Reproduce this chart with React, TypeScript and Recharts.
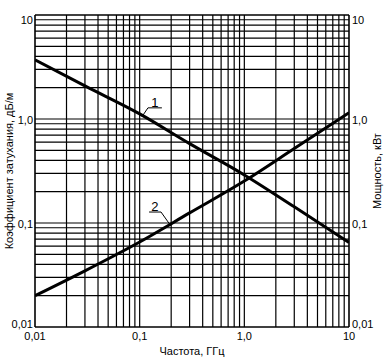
import React from 'react';
import {
  LineChart, Line, XAxis, YAxis, ReferenceLine, ReferenceDot,
} from 'recharts';

// frequency, GHz
const freq = [0.01, 0.03, 0.1, 0.3, 1, 3, 10];
// curve 1 – attenuation, dB/m
const attenuation = [3.7, 2.08, 1.12, 0.58, 0.29, 0.143, 0.065];
// curve 2 – power, kW
const power = [0.02, 0.0347, 0.0657, 0.125, 0.253, 0.52, 1.15];

const decadeTicks = [0.01, 0.1, 1, 10];
const xTickLabels = ['0,01', '0,1', '1,0', '10'];
const yTickLabels = ['0,01', '0,1', '1,0', '10'];
const gridMultipliers = [1, 2, 3, 4, 5, 6, 7, 8, 9];
const gridDecades = [0.01, 0.1, 1];

const gridValues = [...gridDecades.flatMap((d) => gridMultipliers.map((m) => +(d * m).toPrecision(3))), 10];

const data = freq.map((f, i) => ({ f, a: attenuation[i], p: power[i] }));

const FONT = 'Arial, "Liberation Sans", sans-serif';

const labelFor = (labels: string[], v: number) => labels[decadeTicks.indexOf(v)] ?? String(v);

// end labels sit slightly inside the frame, as in the drawing
const edgeShift = (v: number) => (v === 10 ? 5 : v === 0.01 ? -3 : 1);

const YTick = (props: any) => {
  const { x, y, payload, textAnchor } = props;
  return (
    <text x={x} y={y + edgeShift(payload.value)} textAnchor={textAnchor} dominantBaseline="central"
      fontSize={11} fontFamily={FONT} fill="#000">
      {labelFor(yTickLabels, payload.value)}
    </text>
  );
};

const App: React.FC = () => {
  return (
    <div style={{ position: 'absolute', left: 0, top: 0, background: '#fff' }}>
      <LineChart width={387} height={359} data={data} margin={{ top: 15, right: 0, bottom: 0, left: 0 }}>
        <XAxis dataKey="f" type="number" scale="log" domain={[0.01, 10]} ticks={decadeTicks}
          allowDataOverflow axisLine={false} tickLine={false} tickSize={3} height={32}
          tick={{ fontSize: 11, fontFamily: FONT, fill: '#000' }}
          tickFormatter={(v: number) => labelFor(xTickLabels, v)}
          label={{ value: 'Частота, ГГц', position: 'insideBottom', offset: 4, fontSize: 11, fontFamily: FONT, fill: '#000' }} />
        <YAxis yAxisId="left" type="number" scale="log" domain={[0.01, 10]} ticks={decadeTicks}
          allowDataOverflow axisLine={false} tickLine={false} tickSize={0} tickMargin={2} width={35}
          tick={<YTick />}
          label={{ value: 'Коэффициент затухания, дБ/м', angle: -90, position: 'center', dx: -8, fontSize: 11, fontFamily: FONT, fill: '#000' }} />
        <YAxis yAxisId="right" orientation="right" type="number" scale="log" domain={[0.01, 10]} ticks={decadeTicks}
          allowDataOverflow axisLine={false} tickLine={false} tickSize={0} tickMargin={3} width={38}
          tick={<YTick />}
          label={{ value: 'Мощность, кВт', angle: -90, position: 'center', dx: 9, fontSize: 11, fontFamily: FONT, fill: '#000' }} />

        {/* log grid */}
        {gridValues.map((v) => (
          <ReferenceLine key={`gx-${v}`} yAxisId="left" x={v} stroke="#000"
            strokeWidth={v === 0.01 || v === 10 ? 1.6 : 1.2} />
        ))}
        {gridValues.map((v) => (
          <ReferenceLine key={`gy-${v}`} yAxisId="left" y={v} stroke="#000"
            strokeWidth={v === 0.01 || v === 10 ? 1.6 : 1.2} />
        ))}

        <Line yAxisId="left" dataKey="a" type="monotone" stroke="#000" strokeWidth={3} dot={false} isAnimationActive={false} />
        <Line yAxisId="left" dataKey="p" type="monotone" stroke="#000" strokeWidth={3} dot={false} isAnimationActive={false} />

        {/* callout 1 */}
        <ReferenceLine yAxisId="left" segment={[{ x: 0.105, y: 1.05 }, { x: 0.12, y: 1.28 }]} stroke="#000" strokeWidth={1} />
        <ReferenceLine yAxisId="left" segment={[{ x: 0.12, y: 1.28 }, { x: 0.163, y: 1.28 }]} stroke="#000" strokeWidth={1} />
        <ReferenceDot yAxisId="left" x={0.14} y={1.28} r={0} stroke="none" fill="none"
          label={{ value: '1', position: 'top', offset: 1, fontSize: 13, fontFamily: FONT, fill: '#000' }} />
        {/* callout 2 */}
        <ReferenceLine yAxisId="left" segment={[{ x: 0.123, y: 0.1275 }, { x: 0.16, y: 0.1275 }]} stroke="#000" strokeWidth={1} />
        <ReferenceLine yAxisId="left" segment={[{ x: 0.16, y: 0.1275 }, { x: 0.199, y: 0.0936 }]} stroke="#000" strokeWidth={1} />
        <ReferenceDot yAxisId="left" x={0.14} y={0.1275} r={0} stroke="none" fill="none"
          label={{ value: '2', position: 'top', offset: 1, fontSize: 13, fontFamily: FONT, fill: '#000' }} />
      </LineChart>
    </div>
  );
};

export default App;
